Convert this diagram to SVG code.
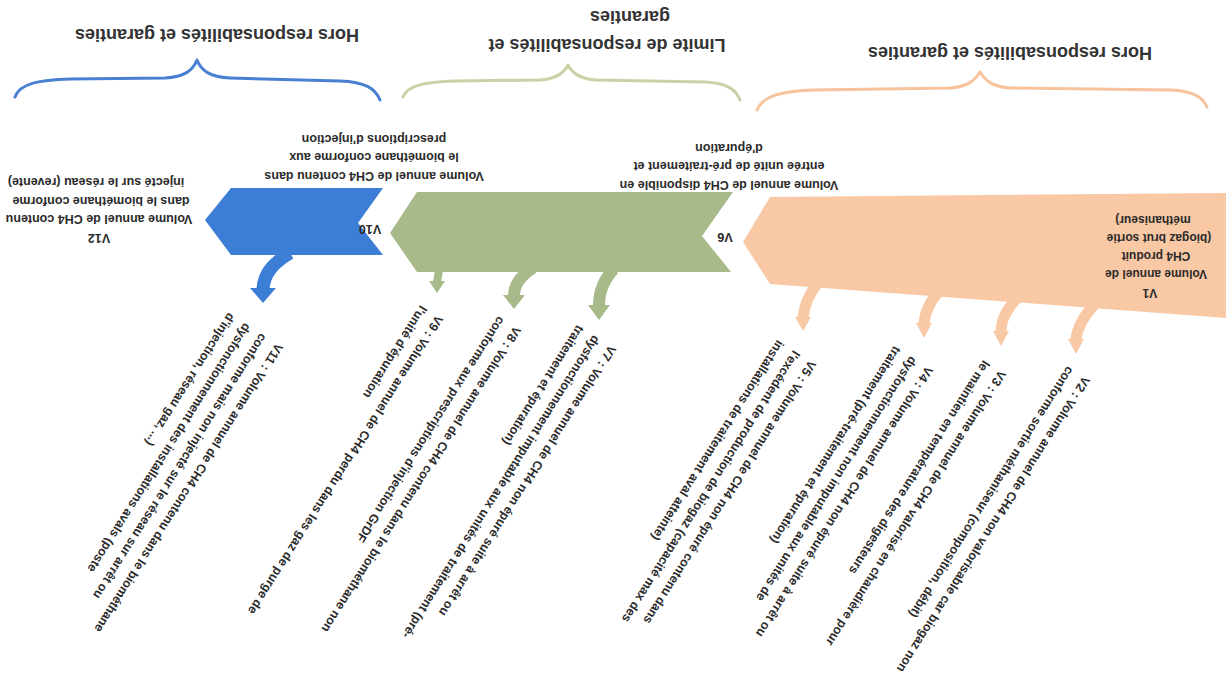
<svg xmlns="http://www.w3.org/2000/svg" width="1226" height="678" viewBox="0 0 1226 678">
<style>
.t{font-family:"Liberation Sans",Arial,sans-serif;font-weight:bold;font-size:12.5px;fill:#2b2b2b}
.s{font-size:12px}
.h{font-family:"Liberation Sans",Arial,sans-serif;font-weight:bold;font-size:18px;fill:#333}
.brace{fill:none;stroke-width:3;stroke-linecap:round;stroke-linejoin:round}
.org{fill:#f9c8a4}.grn{fill:#a8b98a}.blu{fill:#3c7dd6}
.sh{fill:none;stroke-linecap:butt}
.osh{stroke:#f9c8a4;stroke-width:11}.gsh{stroke:#a8b98a;stroke-width:12}.bsh{stroke:#3c7dd6;stroke-width:13}
</style>
<rect width="1226" height="678" fill="#fff"/>

<g id="brace-blue">
<path class="brace" stroke="#4a80d2" d="M15 97 C20 83 40 80 70 79 L165 78 C185 77 193 70 197 60 C201 70 209 77 230 78 L340 81 C365 82 375 88 380 100"/>
<text class="h" transform="translate(217 28.7) rotate(180)" text-anchor="middle">Hors responsabilités et garanties</text>
</g>
<g id="brace-green">
<path class="brace" stroke="#c9d2a6" d="M403 97 C408 85 425 82 455 81 L540 80 C557 79 564 73 568 65 C572 73 579 79 596 80 L705 82 C728 83 736 90 740 100"/>
<text class="h" transform="translate(607 38.7) rotate(180)" text-anchor="middle"><tspan x="0" y="0">Limite de responsabilités et</tspan><tspan x="-23" y="28">garanties</tspan></text>
</g>
<g id="brace-orange">
<path class="brace" stroke="#f6c39c" d="M757 110 C763 96 780 91 815 90 L950 88 C968 87 975 80 980 72 C985 80 992 87 1010 88 L1170 90 C1195 91 1203 98 1207 107"/>
<text class="h" transform="translate(1010 46.7) rotate(180)" text-anchor="middle">Hors responsabilités et garanties</text>
</g>

<g id="connectors">
<path class="sh bsh" d="M290 253 C275 262 264 272 263 289"/>
<polygon class="blu" points="250,288 276,288 263,303"/>
<path class="sh gsh" style="stroke-width:8" d="M440 266 Q438 275 437 282"/>
<polygon class="grn" points="429,281 445,281 437,293"/>
<path class="sh gsh" d="M533 268 C520 276 514 285 514 296"/>
<polygon class="grn" points="503,295 525,295 514,309"/>
<path class="sh gsh" d="M614 269 C603 280 599 292 599 306"/>
<polygon class="grn" points="588,305 610,305 599,320"/>
<path class="sh osh" d="M818 283 C808 295 804 306 803 318"/>
<polygon class="org" points="795,317 811,317 803,331"/>
<path class="sh osh" d="M942 288 C930 300 925 312 924 324"/>
<polygon class="org" points="916,323 932,323 924,338"/>
<path class="sh osh" d="M1018 297 C1006 310 1001 320 1001 332"/>
<polygon class="org" points="993,331 1009,331 1001,346"/>
<path class="sh osh" d="M1094 305 C1082 318 1077 328 1076 340"/>
<polygon class="org" points="1068,339 1084,339 1076,354"/>
</g>

<g id="v1">
<polygon class="org" points="743,242 770,197 1226,193 1226,318 770,284"/>
<text class="t s" transform="translate(1156 288.7) rotate(180)" text-anchor="middle"><tspan x="6" y="0">V1</tspan><tspan x="0" y="18.3">Volume annuel de</tspan><tspan x="0" y="36.6">CH4 produit</tspan><tspan x="-3" y="54.9">(biogaz brut sortie</tspan><tspan x="3" y="73.2">méthaniseur)</tspan></text>
</g>
<g id="v6">
<polygon class="grn" points="390,233 417,192 733,192 702,236 731,272 417,272"/>
<text class="t" transform="translate(725 232.5) rotate(180)" text-anchor="middle">V6</text>
<text class="t" transform="translate(729 180.6) rotate(180)" text-anchor="middle"><tspan x="0" y="0">Volume annuel de CH4  disponible en</tspan><tspan x="0" y="18.5">entrée unité de pré-traitement et</tspan><tspan x="0" y="37">d'épuration</tspan></text>
</g>
<g id="v10">
<polygon class="blu" points="205,220 231,188 383,188 358,223 383,255 231,255"/>
<text class="t" transform="translate(370 224.5) rotate(180)" text-anchor="middle">V10</text>
<text class="t" transform="translate(374 171.6) rotate(180)" text-anchor="middle"><tspan x="0" y="0">Volume annuel de CH4 contenu dans</tspan><tspan x="0" y="18.5">le biométhane conforme aux</tspan><tspan x="0" y="37">prescriptions d'injection</tspan></text>
</g>
<g id="v12">
<text class="t" transform="translate(99 233.6) rotate(180)" text-anchor="middle"><tspan x="0" y="0">V12</tspan><tspan x="0" y="18.5">Volume annuel de CH4 contenu</tspan><tspan x="-2" y="37">dans le biométhane conforme</tspan><tspan x="3" y="55.5">injecté sur le réseau (revente)</tspan></text>
</g>

<g id="v2"><text class="t" transform="translate(1083.3 375.6) rotate(122.5)"><tspan x="0" y="0">V2 : Volume annuel de CH4 non valorisable car biogaz non</tspan><tspan x="0" y="19">conforme  sortie méthaniseur (composition, débit)</tspan></text></g>
<g id="v3"><text class="t" transform="translate(999.3 369.6) rotate(122.5)"><tspan x="0" y="0">V3 : Volume annuel de CH4 valorisé en chaudière pour</tspan><tspan x="0" y="19">le maintien en température des digesteurs</tspan></text></g>
<g id="v4"><text class="t" transform="translate(926.3 365.6) rotate(122.5)"><tspan x="0" y="0">V4 : Volume annuel de CH4 non épuré suite  à arrêt ou</tspan><tspan x="0" y="19">dysfonctionnement  non imputable aux unités de</tspan><tspan x="0" y="38">traitement (pré-traitement et épuration)</tspan></text></g>
<g id="v5"><text class="t" transform="translate(809.3 359.6) rotate(122.5)"><tspan x="0" y="0">V5 : Volume annuel de CH4 non épuré contenu dans</tspan><tspan x="0" y="19">l'excédent de production de biogaz  (capacité max des</tspan><tspan x="0" y="38">installations de traitement aval atteinte)</tspan></text></g>
<g id="v7"><text class="t" transform="translate(609.3 344.6) rotate(122.5)"><tspan x="0" y="0">V7 : Volume annuel de CH4 non épuré suite  à arrêt ou</tspan><tspan x="0" y="19">dysfonctionnement  imputable aux unités de traitement (pré-</tspan><tspan x="0" y="38">traitement et épuration)</tspan></text></g>
<g id="v8"><text class="t" transform="translate(514.3 325.6) rotate(122.5)"><tspan x="0" y="0">V8 : Volume annuel de CH4 contenu dans le biométhane non</tspan><tspan x="0" y="19">conforme aux prescriptions d'injection GrDF</tspan></text></g>
<g id="v9"><text class="t" transform="translate(436.3 314.6) rotate(122.5)"><tspan x="0" y="0">V9 : Volume annuel de CH4 perdu dans les gaz de purge de</tspan><tspan x="0" y="19">l'unité d'épuration</tspan></text></g>
<g id="v11"><text class="t" transform="translate(276.3 342.6) rotate(122.5)"><tspan x="0" y="0">V11 : Volume annuel de CH4 contenu dans le biométhane</tspan><tspan x="0" y="19">conforme mais non injecté sur le réseau sur arrêt ou</tspan><tspan x="0" y="38">dysfonctionnement des installations avals (poste</tspan><tspan x="0" y="57">d'injection, réseau gaz, ...)</tspan></text></g>
</svg>
